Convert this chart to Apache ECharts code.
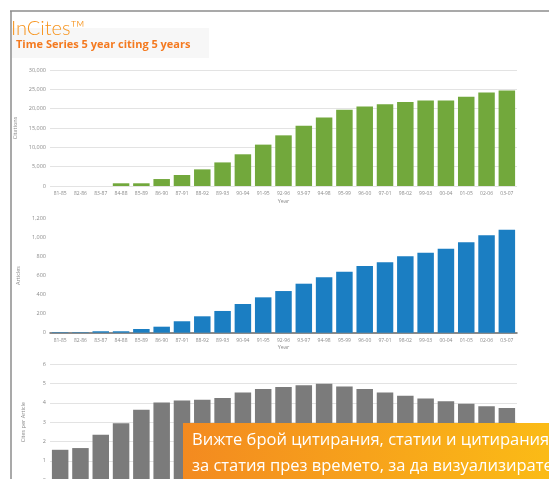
<!DOCTYPE html>
<html><head><meta charset="utf-8">
<script src="https://cdn.jsdelivr.net/npm/echarts@6/dist/echarts.min.js"></script>
<style>html,body{margin:0;padding:0;background:#fff;}#c{width:549px;height:479px;}</style>
</head><body><div id="c"></div>
<script>
const categories = ['81-85','82-86','83-87','84-88','85-89','86-90','87-91','88-92','89-93','90-94','91-95','92-96','93-97','94-98','95-99','96-00','97-01','98-02','99-03','00-04','01-05','02-06','03-07'];
const citations = [0,0,0,700,700,1800,2850,4300,6100,8200,10700,13100,15600,17700,19700,20550,21150,21700,22100,22100,23100,24150,24700];
const articles = [5,5,15,15,39,63,120,172,228,301,371,437,514,581,640,700,738,801,839,881,948,1021,1080];
const citesPerArticle = [1.57,1.66,2.35,2.95,3.64,4.02,4.12,4.16,4.25,4.54,4.72,4.83,4.92,4.99,4.85,4.72,4.54,4.37,4.23,4.09,3.95,3.83,3.73];
const titleText = 'InCites™';
const subtitleText = 'Time Series 5 year citing 5 years';
const yNames = ['Citations','Articles','Cites per Article'];
const xName = 'Year';
const overlayLines = ['Вижте брой цитирания, статии и цитирания','за статия през времето, за да визуализирате'];

const chart = echarts.init(document.getElementById('c'), null, {renderer:'canvas'});
const font = 'Open Sans';
const lblColor = '#8a8a8a';
function xAxis(i, showLine){
  return {type:'category', gridIndex:i, data:categories,
    axisTick:{show:false},
    axisLine:{show:showLine, lineStyle:{color:'#666', width:1.5}},
    axisLabel:{interval:0, fontSize:5, color:lblColor, margin:5, fontFamily:font},
    name:xName, nameLocation:'middle', nameGap:12,
    nameTextStyle:{fontSize:5.5, color:lblColor, fontFamily:font}};
}
function yAxis(i, max, interval, fmt, split){
  return {type:'value', gridIndex:i, min:0, max:max, interval:interval,
    axisLine:{show:false}, axisTick:{show:false},
    axisLabel:{fontSize:5.5, color:lblColor, margin:4, formatter:fmt, fontFamily:font},
    splitLine:{show:split, lineStyle:{color:'#e3e3e3', width:1}},
    name:yNames[i], nameLocation:'middle', nameGap:24, nameRotate:90,
    nameTextStyle:{fontSize:5.5, color:lblColor, fontFamily:font}};
}
const option = {
  animation:false,
  grid:[
    {left:50, right:32, top:70, height:116, outerBoundsMode:'none', containLabel:false},
    {left:50, right:32, top:218.3, height:114.4, outerBoundsMode:'none', containLabel:false},
    {left:50, right:32, top:364.3, height:115.8, outerBoundsMode:'none', containLabel:false}
  ],
  xAxis:[xAxis(0,false), xAxis(1,true), xAxis(2,false)],
  yAxis:[
    yAxis(0, 30000, 5000, v=>v.toLocaleString('en-US'), true),
    yAxis(1, 1200, 200, v=>v.toLocaleString('en-US'), false),
    yAxis(2, 6, 1, v=>String(v), true)
  ],
  series:[
    {type:'bar', xAxisIndex:0, yAxisIndex:0, data:citations, barWidth:16.5, itemStyle:{color:'#72a83c'}},
    {type:'bar', xAxisIndex:1, yAxisIndex:1, data:articles, barWidth:16.5, itemStyle:{color:'#1b7ec2'}},
    {type:'bar', xAxisIndex:2, yAxisIndex:2, data:citesPerArticle, barWidth:16.5, itemStyle:{color:'#7b7b7b'}}
  ],
  graphic:[
    {type:'rect', shape:{x:12, y:28, width:197, height:30}, style:{fill:'#f7f7f7'}, z:1},
    {type:'line', shape:{x1:10, y1:11, x2:549, y2:11}, style:{stroke:'#8c8c8c', lineWidth:1.5}, z:10},
    {type:'line', shape:{x1:11, y1:11, x2:11, y2:479}, style:{stroke:'#8c8c8c', lineWidth:1.5}, z:10},
    {type:'text', left:11, top:19, style:{text:titleText, fill:'#f7941d', font:'300 20px Lato'}, z:5},
    {type:'text', left:16, top:39, style:{text:subtitleText, fill:'#f47a20', font:'bold 11px "Open Sans"'}, z:5},
    {type:'rect', shape:{x:183, y:423, width:366, height:56},
      style:{fill:new echarts.graphic.LinearGradient(0,0,1,0,[{offset:0,color:'#f38a20'},{offset:1,color:'#fbbb16'}])}, z:100},
    {type:'text', left:192, top:432, style:{text:overlayLines[0], fill:'#fff', font:'16.5px "Open Sans"'}, z:101},
    {type:'text', left:192, top:458, style:{text:overlayLines[1], fill:'#fff', font:'16.5px "Open Sans"'}, z:101}
  ]
};
chart.setOption(option);
</script></body></html>
